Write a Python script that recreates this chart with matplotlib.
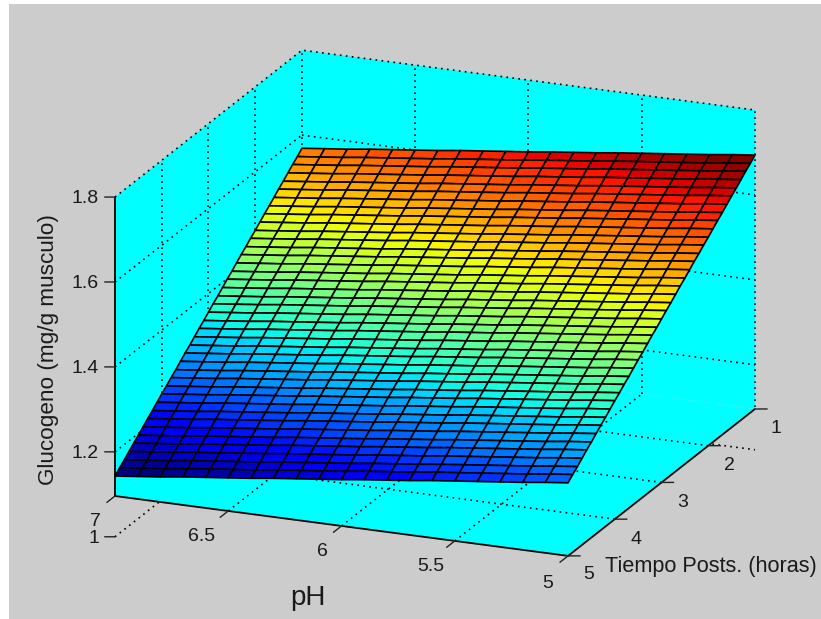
import numpy as np
import matplotlib
matplotlib.use("Agg")
import matplotlib.pyplot as plt
from matplotlib.patches import Rectangle
from mpl_toolkits.mplot3d import proj3d
from mpl_toolkits.mplot3d.art3d import Poly3DCollection

# ---- data ----
ph_values = [5.0, 5.1, 5.2, 5.3, 5.4, 5.5, 5.6, 5.7, 5.8, 5.9, 6.0,
             6.1, 6.2, 6.3, 6.4, 6.5, 6.6, 6.7, 6.8, 6.9, 7.0]
time_values = [1.0, 1.1, 1.2, 1.3, 1.4, 1.5, 1.6, 1.7, 1.8, 1.9,
               2.0, 2.1, 2.2, 2.3, 2.4, 2.5, 2.6, 2.7, 2.8, 2.9,
               3.0, 3.1, 3.2, 3.3, 3.4, 3.5, 3.6, 3.7, 3.8, 3.9,
               4.0, 4.1, 4.2, 4.3, 4.4, 4.5, 4.6, 4.7, 4.8, 4.9, 5.0]
# glucogen along the pH = 7 edge, one value per time
glucogen_at_ph7 = [1.569, 1.558, 1.548, 1.537, 1.526, 1.516, 1.505, 1.494, 1.484, 1.473,
                   1.462, 1.452, 1.441, 1.431, 1.420, 1.409, 1.399, 1.388, 1.377, 1.367,
                   1.356, 1.345, 1.335, 1.324, 1.313, 1.303, 1.292, 1.281, 1.271, 1.260,
                   1.250, 1.239, 1.228, 1.218, 1.207, 1.196, 1.186, 1.175, 1.164, 1.154, 1.143]
# rise of glucogen relative to pH = 7, one value per pH
rise_by_ph = [0.125, 0.119, 0.112, 0.106, 0.100, 0.094, 0.088, 0.081, 0.075, 0.069, 0.062,
              0.056, 0.050, 0.044, 0.037, 0.031, 0.025, 0.019, 0.012, 0.006, 0.000]

x_ticks = [7, 6.5, 6, 5.5, 5]
x_labels = ["7", "6.5", "6", "5.5", "5"]
y_ticks = [1, 2, 3, 4, 5]
y_labels = ["1", "2", "3", "4", "5"]
z_ticks = [1.2, 1.4, 1.6, 1.8]
z_labels = ["1.2", "1.4", "1.6", "1.8"]
z_floor, z_top = 1.096, 1.8
z_stray = 1.0

W, H = 821, 619
plt.rcParams["font.family"] = ["Liberation Sans", "DejaVu Sans"]
fig = plt.figure(figsize=(W / 100, H / 100), dpi=100, facecolor="white")
fig.add_artist(Rectangle((9 / W, 0), 1 - 9 / W, (H - 4) / H, transform=fig.transFigure,
                         facecolor="#CCCCCC", edgecolor="none", zorder=-10))

ax = fig.add_axes([0.1, 0.1, 0.7, 0.7 * W / H], projection="3d", proj_type="ortho",
                  computed_zorder=False)
ax.patch.set_visible(False)
ax.set_facecolor("none")
ax.set_xlim(5, 7, view_margin=0)
ax.set_ylim(1, 5, view_margin=0)
ax.set_zlim(z_floor, z_top, view_margin=0)
ax.set_box_aspect((490, 493, 316))
ax.view_init(elev=18.8, azim=112.3)
ax.set_axis_off()

# place the axes so the box corners land where they do in the reference
M = ax.get_proj()
ax.M = M
xa, ya, _ = proj3d.proj_transform(7, 5, z_floor, M)
xc, yc, _ = proj3d.proj_transform(5, 1, z_floor, M)
vl = ax.viewLim
scale = (755 - 115) / (xc - xa)
L = scale * vl.width
left = 115 - scale * (xa - vl.x0)
bottom = (H - 496) - scale * (ya - vl.y0)
ax.set_position([left / W, bottom / H, L / W, L / H])

TEXT = "#1a1a1a"
DOT = dict(color="black", lw=1.2, ls=(0, (1, 2.6)))
SOLID = dict(color="black", lw=1.3, solid_capstyle="butt")

# z = 1 grid lines stick out below the floor, floor hides the middle
ax.plot([7, 7], [5, 1], [z_stray, z_stray], zorder=1, **DOT)
ax.plot([7, 5], [1, 1], [z_stray, z_stray], zorder=1, **DOT)

# walls and floor
walls = [
    [(5, 5, z_floor), (7, 5, z_floor), (7, 1, z_floor), (5, 1, z_floor)],
    [(7, 5, z_floor), (7, 1, z_floor), (7, 1, z_top), (7, 5, z_top)],
    [(7, 1, z_floor), (5, 1, z_floor), (5, 1, z_top), (7, 1, z_top)],
]
pane = Poly3DCollection(walls, facecolors="#00FFFF", edgecolors="none", zorder=2)
ax.add_collection3d(pane)

# grid
for xt in x_ticks[1:-1]:
    ax.plot([xt, xt], [5, 1], [z_floor, z_floor], zorder=3, **DOT)
    ax.plot([xt, xt], [1, 1], [z_floor, z_top], zorder=3, **DOT)
for yt in y_ticks[1:-1]:
    ax.plot([5, 7], [yt, yt], [z_floor, z_floor], zorder=3, **DOT)
    ax.plot([7, 7], [yt, yt], [z_floor, z_top], zorder=3, **DOT)
for zt in z_ticks[:-1]:
    ax.plot([7, 7], [5, 1], [zt, zt], zorder=3, **DOT)
    ax.plot([7, 5], [1, 1], [zt, zt], zorder=3, **DOT)
# box outline
ax.plot([7, 7, 5, 5], [5, 1, 1, 1], [z_top, z_top, z_top, z_floor], zorder=3, **DOT)
ax.plot([7, 7], [1, 1], [z_floor, z_top], zorder=3, **DOT)

# surface
X, Y = np.meshgrid(ph_values, time_values)
Z = np.array(glucogen_at_ph7)[:, None] + np.array(rise_by_ph)[None, :]
Z_face = (Z[:-1, :-1] + Z[1:, :-1] + Z[:-1, 1:] + Z[1:, 1:]) / 4
jet = plt.get_cmap("jet", 64)
colors = jet((Z_face - Z_face.min()) / (Z_face.max() - Z_face.min()))
surf = ax.plot_surface(X, Y, Z, facecolors=colors, rstride=1, cstride=1, shade=False,
                       linewidth=1.2, antialiased=True, zorder=5)
surf.set_edgecolor("black")

# axis lines
ax.plot([7, 5, 5], [5, 5, 1], [z_floor, z_floor, z_floor], zorder=4, **SOLID)
ax.plot([7, 7], [5, 5], [z_floor, z_top], zorder=4, **SOLID)

# tick marks
for xt in x_ticks:
    ax.plot([xt, xt], [5, 5.17], [z_floor, z_floor], zorder=4, color="#222222", lw=1.0)
for yt in y_ticks:
    ax.plot([5, 5 - 0.045], [yt, yt - 0.037], [z_floor, z_floor], zorder=4, color="#222222", lw=1.0)
for zt in z_ticks + [z_stray]:
    ax.plot([7, 7.038], [5, 5.031], [zt, zt], zorder=4, color="#222222", lw=1.0)


def label_at(x, y, z, dx, dy, s, **kw):
    xp, yp, _ = proj3d.proj_transform(x, y, z, M)
    kw.setdefault("fontsize", 14)
    kw.setdefault("ha", "center")
    kw.setdefault("va", "center")
    ax.annotate(s, (xp, yp), xytext=(dx, -dy), textcoords="offset pixels",
                color=TEXT, annotation_clip=False, **kw)


x_label_offsets = [(-20, 26), (-27, 26), (-19, 26), (-24, 26), (-20, 28)]
for xt, s, (dx, dy) in zip(x_ticks, x_labels, x_label_offsets):
    label_at(xt, 5, z_floor, dx, dy, s)
y_label_offsets = [(21, 20), (21, 20), (21, 20), (21, 20), (21, 19)]
for yt, s, (dx, dy) in zip(y_ticks, y_labels, y_label_offsets):
    label_at(5, yt, z_floor, dx, dy, s)
for zt, s in zip(z_ticks + [z_stray], z_labels + ["1"]):
    label_at(7, 5, zt, -16, 2 if zt != 1.8 else 1, s, ha="right")

label_at(5, 5, z_floor, 143, 11, "Tiempo Posts. (horas)", fontsize=15.6)
label_at(7, 5, (z_floor + z_top) / 2, -67, 3, "Glucogeno (mg/g musculo)", fontsize=16.2, rotation=90)
label_at(6, 5, z_floor, -34, 72, "pH", fontsize=20)

fig.savefig("out.png", dpi=100, facecolor=fig.get_facecolor())
